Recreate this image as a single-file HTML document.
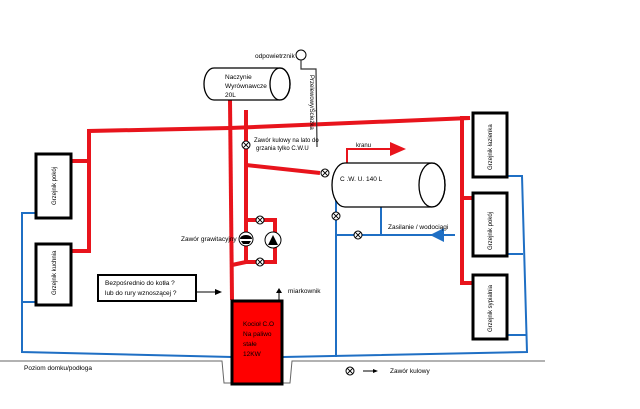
<!DOCTYPE html>
<html><head><meta charset="utf-8"><style>html,body{margin:0;padding:0;background:#fff}svg{display:block}text{font-family:"Liberation Sans",sans-serif;fill:#000}</style></head><body>
<svg width="640" height="409" viewBox="0 0 640 409" xmlns="http://www.w3.org/2000/svg">
<defs>
<g id="v"><circle r="4" fill="#fff" stroke="#000" stroke-width="1"/><path d="M-2.8,-2.8L2.8,2.8M-2.8,2.8L2.8,-2.8" stroke="#000" stroke-width="1"/></g>
</defs>
<polyline points="0,361 222,361 224,383 290,383 292,361 545,361" fill="none" stroke="#666" stroke-width="1"/>
<g stroke="#1f6fc4" stroke-width="2" fill="none">
<polyline points="35,213 22,213 22,352 232,357"/>
<line x1="22" y1="302" x2="35" y2="302"/>
<polyline points="508,176 522,176 527,352 283,357"/>
<line x1="508" y1="254" x2="523" y2="254"/>
<line x1="508" y1="335" x2="526" y2="335"/>
<line x1="336" y1="175" x2="336" y2="357"/>
<line x1="336" y1="235" x2="455" y2="235"/>
<line x1="381" y1="207" x2="381" y2="235"/>
</g>
<polygon points="430,235 444,228 444,242" fill="#1f6fc4"/>
<g stroke="#e8141c" stroke-width="4" fill="none">
<polyline points="72,161 89,161 89,131 230,128 470,118"/>
<polyline points="72,251 89,251 89,161"/>
<line x1="230" y1="100" x2="232" y2="300"/>
<line x1="246" y1="110" x2="246" y2="262"/>
<polyline points="246,165 320,173"/>
<polyline points="246,262 232,265"/>
<polyline points="246,220 275,220 275,262 246,262"/>
<polyline points="470,118 462,118 462,283 472,283"/>
<line x1="462" y1="198" x2="472" y2="198"/>
</g>
<polyline points="347,163 347,149 395,149" fill="none" stroke="#e8141c" stroke-width="2"/>
<polygon points="406,149 390,142 390,156" fill="#e8141c"/>
<text x="356" y="147" font-size="6">kranu</text>
<use href="#v" x="246" y="145"/>
<use href="#v" x="325" y="173"/>
<use href="#v" x="336" y="216"/>
<use href="#v" x="358" y="235"/>
<use href="#v" x="260" y="220"/>
<use href="#v" x="260" y="262"/>
<circle cx="246" cy="239" r="7" fill="#fff" stroke="#000"/>
<path d="M240,239 a6,4 0 0 1 12,0 z M241,241 h10 l-2,3 h-6z" fill="#000"/>
<circle cx="273" cy="240" r="8" fill="#fff" stroke="#000"/>
<polygon points="268,245 278,245 273,235" fill="#000"/>
<text x="181" y="241" font-size="6.5">Zawór grawitacyjny</text>
<path d="M214,68 H280 A10,16 0 0 1 280,100 H214 A10,16 0 0 1 214,68 Z" fill="#fff" stroke="#000" stroke-width="1.3"/>
<ellipse cx="280" cy="84" rx="10" ry="16" fill="none" stroke="#000" stroke-width="1.3"/>
<text x="225" y="79" font-size="6.5">Naczynie</text>
<text x="225" y="88" font-size="6.5">Wyrównawcze</text>
<text x="225" y="97" font-size="6.5">20L</text>
<circle cx="301" cy="55" r="5" fill="#fff" stroke="#000"/>
<polyline points="301,60 301,69 316,69 317,147" fill="none" stroke="#333" stroke-width="1.2"/>
<text x="255" y="58" font-size="6.5">odpowietrznik</text>
<text transform="translate(310,75) rotate(90)" font-size="6">Przelewowy/Ścieżka</text>
<text x="254" y="142" font-size="6">Zawór kulowy na lato do</text>
<text x="256" y="150" font-size="6">grzania tylko C.W.U</text>
<path d="M345,163 H432 A13,22 0 0 1 432,207 H345 A13,22 0 0 1 345,163 Z" fill="#fff" stroke="#000" stroke-width="1.3"/>
<ellipse cx="432" cy="185" rx="13" ry="22" fill="none" stroke="#000" stroke-width="1.3"/>
<text x="340" y="181" font-size="6.5">C .W. U.     140 L</text>
<text x="388" y="229" font-size="6.5">Zasilanie / wodociągi</text>
<g fill="#fff" stroke="#000" stroke-width="3">
<rect x="36" y="154" width="35" height="64"/>
<rect x="36" y="244" width="35" height="61"/>
<rect x="473" y="113" width="34" height="64"/>
<rect x="473" y="193" width="34" height="63"/>
<rect x="473" y="275" width="34" height="64"/>
</g>
<g font-size="6">
<text transform="translate(56,205) rotate(-90)">Grzejnik pokój</text>
<text transform="translate(56,295) rotate(-90)">Grzejnik kuchnia</text>
<text transform="translate(492,170) rotate(-90)">Grzejnik łazienka</text>
<text transform="translate(492,250) rotate(-90)">Grzejnik pokój</text>
<text transform="translate(492,332) rotate(-90)">Grzejnik sypialnia</text>
</g>
<rect x="98" y="275" width="98" height="26" fill="#fff" stroke="#000" stroke-width="2"/>
<text x="105" y="285" font-size="6.5">Bezpośrednio do kotła  ?</text>
<text x="105" y="295" font-size="6.5">lub do rury wznoszącej ?</text>
<line x1="196" y1="292" x2="216" y2="292" stroke="#000" stroke-width="1"/>
<polygon points="222,292 215,289 215,295" fill="#000"/>
<rect x="232" y="301" width="50" height="83" fill="#f00" stroke="#000" stroke-width="3"/>
<text x="243" y="326" font-size="6.5">Kocioł C.O</text>
<text x="243" y="336" font-size="6.5">Na paliwo</text>
<text x="243" y="346" font-size="6.5">stałe</text>
<text x="243" y="356" font-size="6.5">12KW</text>
<line x1="279" y1="301" x2="279" y2="292" stroke="#000" stroke-width="1"/>
<polygon points="279,288 276,293 282,293" fill="#000"/>
<text x="288" y="293" font-size="6.5">miarkownik</text>
<text x="24" y="370" font-size="6.5">Poziom domku/podłoga</text>
<use href="#v" x="350" y="371"/>
<line x1="363" y1="371" x2="375" y2="371" stroke="#000"/>
<polygon points="378,371 373,369 373,373" fill="#000"/>
<text x="390" y="373" font-size="6.5">Zawór kulowy</text>
</svg>
</body></html>
